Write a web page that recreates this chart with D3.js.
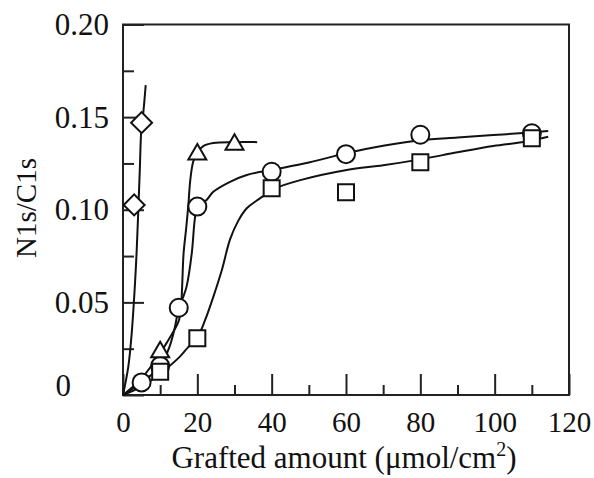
<!DOCTYPE html>
<html>
<head>
<meta charset="utf-8">
<script src="https://cdn.jsdelivr.net/npm/d3@7"></script>
<style>
  html, body { margin: 0; padding: 0; background: #fff; }
  svg { display: block; }
  text { font-family: "Liberation Serif", "Times New Roman", serif; fill: #111; }
</style>
</head>
<body>
<svg id="chart" width="594" height="478"></svg>
<script>
// Measured points (grafted amount in umol/cm2, N1s/C1s ratio)
const diamondX = [3, 5];
const diamondY = [0.1026, 0.147];
const triangleX = [10, 20, 30];
const triangleY = [0.0232, 0.1299, 0.1352];
const circleX = [5, 10, 15, 20, 40, 60, 80, 110];
const circleY = [0.0068, 0.0157, 0.0471, 0.1017, 0.1205, 0.1300, 0.1405, 0.1413];
const squareX = [10, 20, 40, 60, 80, 110];
const squareY = [0.0126, 0.0306, 0.1116, 0.1094, 0.1256, 0.1386];

// Hand-drawn trend curves through each series
const diamondFitX = [0, 1.43, 2.34, 3.23, 3.69, 4.12, 4.52, 4.92, 5.46, 6.11];
const diamondFitY = [0, 0.0153, 0.0333, 0.0603, 0.0783, 0.0999, 0.1215, 0.1430, 0.1524, 0.1673];
const triangleFitX = [0, 5, 10, 11.7, 13.5, 15.0, 15.6, 15.9, 16.3, 17.0, 17.6, 18.1, 18.9, 20.0, 21.6, 24.3, 30, 36.1];
const triangleFitY = [0, 0.009, 0.0225, 0.028, 0.034, 0.040, 0.047, 0.058, 0.0765, 0.090, 0.103, 0.116, 0.126, 0.131, 0.1344, 0.1360, 0.1365, 0.1365];
const circleFitX = [0, 5, 10, 12.5, 14, 15, 16.2, 17.1, 18.5, 19.3, 20.0, 22.5, 24.3, 28.8, 33.3, 40, 50, 60, 70, 80, 90, 99.6, 108.6, 114.4];
const circleFitY = [0, 0.0068, 0.0155, 0.026, 0.037, 0.047, 0.053, 0.0585, 0.0765, 0.0945, 0.102, 0.1053, 0.1097, 0.1151, 0.1188, 0.1215, 0.1255, 0.1305, 0.1345, 0.1375, 0.1390, 0.1403, 0.1416, 0.1425];
const squareFitX = [0, 5, 10, 15.3, 17.6, 20.0, 22.1, 24.3, 26.6, 28.8, 31, 33.3, 36, 38.2, 40.3, 47.7, 60.2, 70, 80, 90, 99.6, 108.6, 114.4];
const squareFitY = [0, 0.0045, 0.0115, 0.0207, 0.026, 0.031, 0.0405, 0.053, 0.0675, 0.084, 0.094, 0.1008, 0.105, 0.108, 0.111, 0.116, 0.1215, 0.124, 0.1272, 0.131, 0.1344, 0.1368, 0.1394];

// Axis ticks
const xMajor = [0, 20, 40, 60, 80, 100, 120];
const xMinor = [10, 30, 50, 70, 90, 110];
const yMajor = [0, 0.05, 0.10, 0.15, 0.20];
const yMinor = [0.025, 0.075, 0.125, 0.175];
const yLabels = ["0", "0.05", "0.10", "0.15", "0.20"];

const svg = d3.select("#chart");
const plotLeft = 123, plotRight = 569, plotTop = 24.5, plotBottom = 395;
const x = d3.scaleLinear().domain([0, 120]).range([plotLeft, plotRight]);
const y = d3.scaleLinear().domain([0, 0.2]).range([plotBottom, plotTop]);

const serif = '"Liberation Serif", "Times New Roman", serif';

// x axis: long ticks with labels, short minor ticks
const gx = svg.append("g").attr("transform", `translate(0,${plotBottom})`);
gx.call(d3.axisBottom(x).tickValues(xMajor).tickSize(-21).tickPadding(16).tickFormat(d3.format("d")));
gx.append("g").call(d3.axisBottom(x).tickValues(xMinor).tickSize(-10).tickFormat(""));
gx.selectAll(".tick text").style("font-size", "29px");

// y axis
const gy = svg.append("g").attr("transform", `translate(${plotLeft},0)`);
gy.call(d3.axisLeft(y).tickValues(yMajor).tickSize(-21).tickPadding(14)
  .tickFormat((d, i) => yLabels[i]));
gy.append("g").call(d3.axisLeft(y).tickValues(yMinor).tickSize(-11).tickFormat(""));
gy.selectAll(".tick text").style("font-size", "31px");

svg.selectAll(".domain").remove();
svg.selectAll(".tick line").attr("stroke", "#222").attr("stroke-width", 2);
svg.selectAll(".tick text").style("font-family", serif).attr("fill", "#111");

// the zero label on the y axis sits a little inward
gy.selectAll(".tick").filter(d => d === 0).select("text")
  .attr("x", -52).attr("dy", "0.0em");

// frame
svg.append("rect")
  .attr("x", plotLeft).attr("y", plotTop)
  .attr("width", plotRight - plotLeft).attr("height", plotBottom - plotTop)
  .attr("fill", "none").attr("stroke", "#222").attr("stroke-width", 2);

// trend curves
const line = d3.line().x(d => x(d[0])).y(d => y(d[1])).curve(d3.curveCatmullRom.alpha(0.5));
const fits = [
  [diamondFitX, diamondFitY],
  [triangleFitX, triangleFitY],
  [circleFitX, circleFitY],
  [squareFitX, squareFitY]
];
svg.append("g").selectAll("path").data(fits).join("path")
  .attr("d", f => line(f[0].map((v, i) => [v, f[1][i]])))
  .attr("fill", "none").attr("stroke", "#111").attr("stroke-width", 2);

// markers
const markers = [
  { xs: circleX, ys: circleY, type: d3.symbolCircle, size: 255, rot: 0 },
  { xs: triangleX, ys: triangleY, type: d3.symbolTriangle, size: 140, rot: 0 },
  { xs: squareX, ys: squareY, type: d3.symbolSquare, size: 256, rot: 0 },
  { xs: diamondX, ys: diamondY, type: d3.symbolSquare, size: 220, rot: 45 }
];
markers.forEach(m => {
  const sym = d3.symbol().type(m.type).size(m.size);
  svg.append("g").selectAll("path").data(m.xs.map((v, i) => [v, m.ys[i]])).join("path")
    .attr("d", sym)
    .attr("transform", d => `translate(${x(d[0])},${y(d[1])}) rotate(${m.rot})`)
    .attr("fill", "#fff").attr("stroke", "#111").attr("stroke-width", 2);
});

// axis titles
const xt = svg.append("text")
  .attr("x", 344).attr("y", 468)
  .attr("text-anchor", "middle")
  .style("font-family", serif)
  .style("font-size", "31px");
xt.append("tspan").text("Grafted amount (\u03bcmol/cm");
xt.append("tspan").attr("dy", -12).style("font-size", "20px").text("2");
xt.append("tspan").attr("dy", 12).text(")");

svg.append("text")
  .attr("transform", "translate(36,208) rotate(-90)")
  .attr("text-anchor", "middle")
  .style("font-family", serif)
  .style("font-size", "29px")
  .text("N1s/C1s");
</script>
</body>
</html>
